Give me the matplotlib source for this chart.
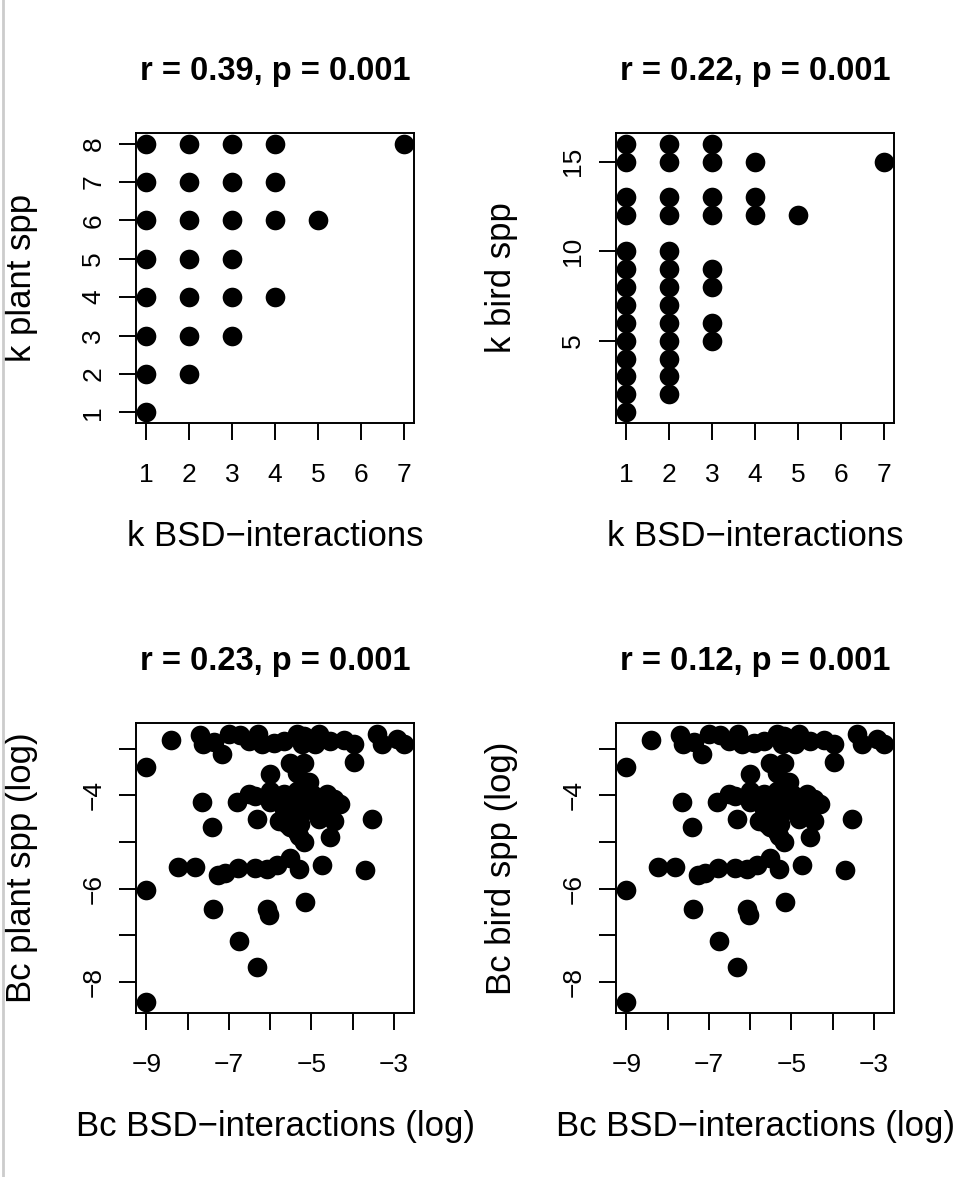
import matplotlib.pyplot as plt
from matplotlib.lines import Line2D

plt.rcParams.update({
    'font.family': ['Liberation Sans', 'DejaVu Sans'],
    'axes.linewidth': 1.4,
})

# degree (k) panels
k_bsd_plant = [1, 1, 1, 1, 1, 1, 1, 1, 2, 2, 2, 2, 2, 2, 2, 3, 3, 3, 3, 3, 3, 4, 4, 4, 4, 5, 7]
k_plant = [1, 2, 3, 4, 5, 6, 7, 8, 2, 3, 4, 5, 6, 7, 8, 3, 4, 5, 6, 7, 8, 4, 6, 7, 8, 6, 8]

k_bsd_bird = [1, 1, 1, 1, 1, 1, 1, 1, 1, 1, 1, 1, 1, 1,
              2, 2, 2, 2, 2, 2, 2, 2, 2, 2, 2, 2, 2,
              3, 3, 3, 3, 3, 3, 3, 3, 4, 4, 4, 5, 7]
k_bird = [1, 2, 3, 4, 5, 6, 7, 8, 9, 10, 12, 13, 15, 16,
          2, 3, 4, 5, 6, 7, 8, 9, 10, 12, 13, 15, 16,
          5, 6, 8, 9, 12, 13, 15, 16, 12, 13, 15, 12, 15]

# betweenness (Bc, log) panels
bc_bsd = [-9.00, -9.00, -9.00, -8.40,
          -7.71, -7.63, -7.37, -7.16, -7.00, -6.72, -6.52, -6.28, -6.19, -5.91, -5.67, -5.35,
          -5.18, -5.22, -4.90, -4.82, -4.54, -4.21, -3.97, -3.41, -3.28, -2.92, -2.76, -3.96,
          -5.99, -5.51, -5.18, -5.35, -5.06, -7.65, -6.80, -6.52, -6.36, -5.99, -5.99, -5.67,
          -5.51, -5.35, -5.18, -4.98, -4.86, -4.62, -4.46, -4.30, -6.32, -5.79, -5.51, -5.59,
          -5.27, -5.31, -4.86, -4.82, -4.46, -3.53, -7.41, -5.51, -5.35, -5.31, -5.18, -4.54,
          -5.67, -5.40, -5.20, -5.45, -5.05, -4.70, -4.60, -5.75, -5.25,
          -8.24, -7.81, -7.27, -7.08, -6.78, -6.37, -6.07, -5.83, -5.52, -5.31, -4.74, -3.70,
          -7.39, -6.07, -6.03, -5.16, -6.76, -6.32]
bc_plant = [-3.40, -6.03, -8.43, -2.82,
            -2.70, -2.91, -2.85, -3.11, -2.68, -2.70, -2.84, -2.68, -2.91, -2.87, -2.84, -2.68,
            -2.73, -2.91, -2.91, -2.68, -2.84, -2.82, -2.89, -2.68, -2.91, -2.80, -2.91, -3.28,
            -3.55, -3.30, -3.30, -3.51, -3.72, -4.15, -4.15, -3.97, -4.01, -3.90, -4.15, -3.97,
            -4.11, -3.90, -4.08, -3.97, -4.15, -3.97, -4.08, -4.18, -4.50, -4.54, -4.47, -4.61,
            -4.61, -4.47, -4.40, -4.50, -4.54, -4.50, -4.67, -4.68, -4.79, -4.86, -5.00, -4.89,
            -4.30, -4.25, -4.30, -4.55, -4.25, -4.20, -4.35, -4.05, -3.85,
            -5.53, -5.53, -5.70, -5.67, -5.55, -5.55, -5.57, -5.50, -5.35, -5.57, -5.50, -5.60,
            -6.43, -6.43, -6.56, -6.28, -7.11, -7.68]
bc_bird = list(bc_plant)  # looks identical in the original

k_ticks = [1, 2, 3, 4, 5, 6, 7]
k_plant_ticks = [1, 2, 3, 4, 5, 6, 7, 8]
k_bird_ticks = [5, 10, 15]
bc_x_ticks = [-9, -8, -7, -6, -5, -4, -3]
bc_x_labels = ['\u22129', '', '\u22127', '', '\u22125', '', '\u22123']
bc_y_ticks = [-8, -7, -6, -5, -4, -3]
bc_y_labels = ['\u22128', '', '\u22126', '', '\u22124', '']

titles = ['r = 0.39, p = 0.001', 'r = 0.22, p = 0.001',
          'r = 0.23, p = 0.001', 'r = 0.12, p = 0.001']

W, H = 957, 1177
fig = plt.figure(figsize=(W / 100, H / 100), dpi=100)


def rlim(v):
    # R-style 4% padding
    lo, hi = min(v), max(v)
    d = (hi - lo) * 0.04
    return lo - d, hi + d


def panel(left, top, x, y, xt, xl, yt, yl, title, xlabel, ylabel):
    ax = fig.add_axes([left / W, 1 - (top + 290) / H, 278 / W, 290 / H])
    ax.scatter(x, y, s=200, c='black', linewidths=0)
    ax.set_xticks(xt, xl)
    ax.set_yticks(yt, yl)
    ax.set_xlim(rlim(x))
    ax.set_ylim(rlim(y))
    ax.tick_params(length=12, width=1.4, labelsize=19)
    ax.tick_params(axis='x', pad=17)
    ax.tick_params(axis='y', pad=10, labelrotation=90)
    for lab in ax.get_yticklabels():
        lab.set_va('center')
    ax.set_title(title, fontsize=23.5, fontweight='bold', pad=38)
    ax.set_xlabel(xlabel, fontsize=25)
    ax.xaxis.set_label_coords(0.5, -0.335)
    ax.set_ylabel(ylabel, fontsize=25)
    ax.yaxis.set_label_coords(-0.352, 0.5)
    return ax


panel(136, 133, k_bsd_plant, k_plant, k_ticks, [str(t) for t in k_ticks],
      k_plant_ticks, [str(t) for t in k_plant_ticks], titles[0],
      'k BSD\u2212interactions', 'k plant spp')
panel(616, 133, k_bsd_bird, k_bird, k_ticks, [str(t) for t in k_ticks],
      k_bird_ticks, [str(t) for t in k_bird_ticks], titles[1],
      'k BSD\u2212interactions', 'k bird spp')
panel(136, 723, bc_bsd, bc_plant, bc_x_ticks, bc_x_labels,
      bc_y_ticks, bc_y_labels, titles[2],
      'Bc BSD\u2212interactions (log)', 'Bc plant spp (log)')
panel(616, 723, bc_bsd, bc_bird, bc_x_ticks, bc_x_labels,
      bc_y_ticks, bc_y_labels, titles[3],
      'Bc BSD\u2212interactions (log)', 'Bc bird spp (log)')

# thin grey edge on the left of the original screenshot
fig.add_artist(Line2D([3 / W, 3 / W], [0, 1], color='#cccccc', lw=2))

fig.savefig('out.png', dpi=100, facecolor='white')
